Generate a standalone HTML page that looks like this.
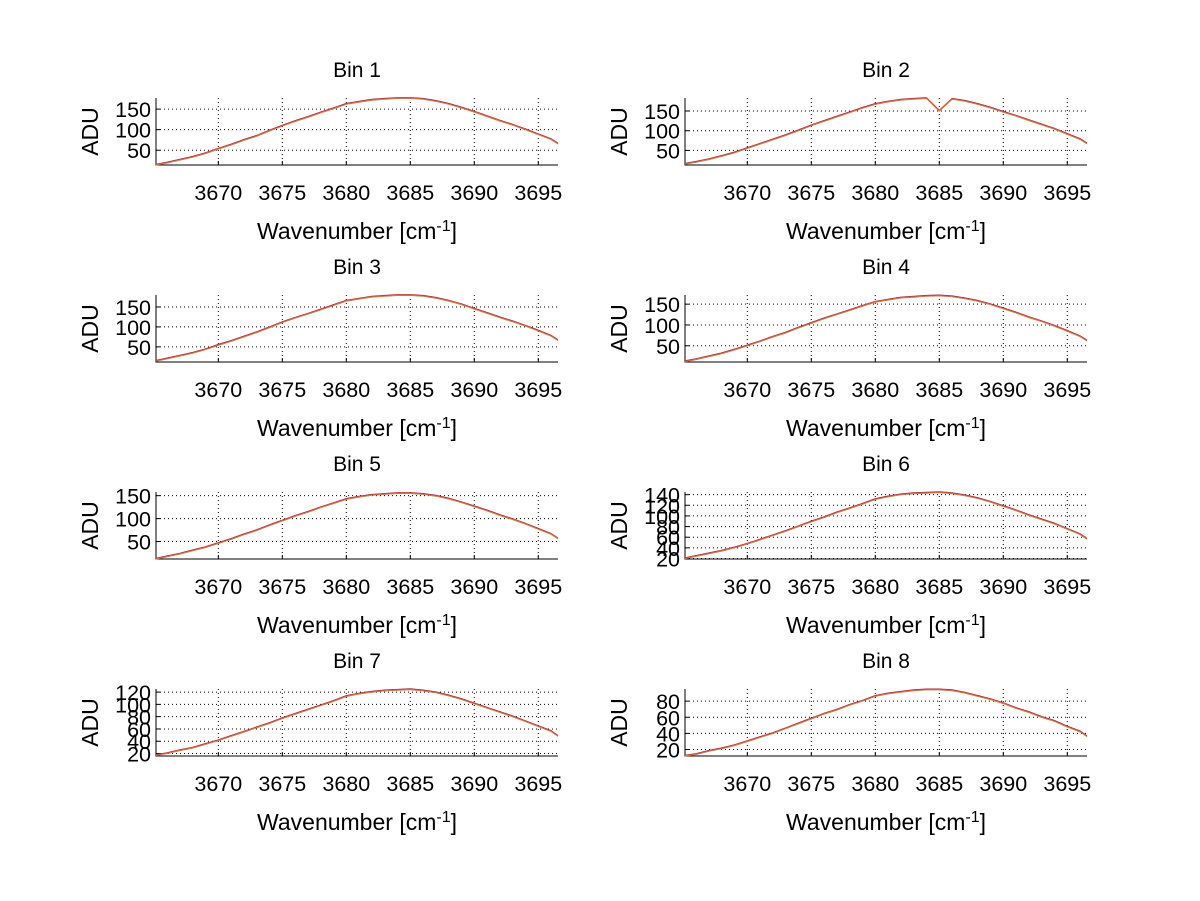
<!DOCTYPE html>
<html><head><meta charset="utf-8"><style>
body{margin:0;background:#fff;}
svg{display:block;font-family:"Liberation Sans",sans-serif;}
</style></head><body>
<svg id="fig" width="1200" height="901" xmlns="http://www.w3.org/2000/svg"></svg>
<script>
const wavenumbers = [3665,3666,3667,3668,3669,3670,3671,3672,3673,3674,3675,3676,3677,3678,3679,3680,3681,3682,3683,3684,3685,3686,3687,3688,3689,3690,3691,3692,3693,3694,3695,3696,3697];
const bin1 = [14,19,26,33,42,53,63,74,84,97,109,120,130,141,151,162,167,172,174,176,176,174,169,162,153,143,132,121,111,100,88,76,65];
const bin2 = [15,20,27,35,44,55,66,77,88,100,113,124,135,146,157,167,173,178,180,182,150,180,175,167,158,147,137,126,115,104,91,78,67];
const bin3 = [14,20,27,34,43,54,64,75,86,98,111,122,132,143,154,165,170,175,177,179,179,177,172,165,156,145,134,123,113,102,90,77,66];
const bin4 = [12,17,24,31,40,50,60,71,81,93,104,115,125,135,145,155,160,165,167,169,170,168,163,157,149,139,129,118,108,97,85,72,62];
const bin5 = [12,17,23,30,37,46,55,65,74,85,95,105,114,124,133,142,147,151,153,155,155,153,149,143,135,126,117,107,98,88,77,66,56];
const bin6 = [20,24,29,34,40,47,55,63,71,80,89,97,106,114,122,131,136,140,142,143,144,142,138,133,126,118,110,101,93,85,75,65,56];
const bin7 = [17,20,25,29,35,41,48,55,62,69,77,84,91,98,105,113,117,120,122,123,124,122,119,114,108,101,94,87,80,72,64,56,48];
const bin8 = [12,14,18,21,25,30,35,40,46,52,58,64,69,75,80,86,89,91,93,94,94,93,90,86,82,77,71,66,60,55,48,42,36];
const binSeries = [bin1,bin2,bin3,bin4,bin5,bin6,bin7,bin8];
const binTitles = ["Bin 1","Bin 2","Bin 3","Bin 4","Bin 5","Bin 6","Bin 7","Bin 8"];
const yLimits = [[14,177],[13,183],[12,180],[11,172],[12,158],[19,145],[16,125],[12,95]];
const yTicks = [[50,100,150],[50,100,150],[50,100,150],[50,100,150],[50,100,150],[20,40,60,80,100,120,140],[20,40,60,80,100,120],[20,40,60,80]];
const xTicks = [3670,3675,3680,3685,3690,3695];
const xLimits = [3665.13,3696.54];

const NS="http://www.w3.org/2000/svg";
const svg=document.getElementById('fig');
function mk(tag,attrs,parent){const e=document.createElementNS(NS,tag);for(const k in attrs)e.setAttribute(k,attrs[k]);(parent||svg).appendChild(e);return e;}

for(let i=0;i<8;i++){
  const col=i%2,row=Math.floor(i/2);
  const L=156+col*529,R=558+col*529,T=98+row*197,B=165+row*197;
  const g=mk('g',{});
  
  
  const xs=v=>L+(v-xLimits[0])/(xLimits[1]-xLimits[0])*(R-L);
  const ys=v=>B-(v-yLimits[i][0])/(yLimits[i][1]-yLimits[i][0])*(B-T);
  xTicks.forEach(t=>{const x=xs(t);
    const gl=mk('line',{x1:x,x2:x,y1:T,y2:B,stroke:'#000','stroke-width':1,'stroke-dasharray':'1,3'},g);
    
    mk('line',{x1:x,x2:x,y1:B,y2:B-4,stroke:'#000'},g);
    const tl=mk('text',{x:x,y:B+35,'text-anchor':'middle','font-size':21.5},g);tl.textContent=t;
    
  });
  yTicks[i].forEach(t=>{const y=ys(t);
    const gl=mk('line',{x1:L,x2:R,y1:y,y2:y,stroke:'#000','stroke-width':1,'stroke-dasharray':'1,3'},g);
    
    mk('line',{x1:L,x2:L+4,y1:y,y2:y,stroke:'#000'},g);
    const tl=mk('text',{x:L-5,y:y+8,'text-anchor':'end','font-size':21.5},g);tl.textContent=t;
    
  });
  const ax=mk('path',{d:`M${L},${T}V${B}H${R}`,fill:'none',stroke:'#000','stroke-width':1},g);
  
  const d=binSeries[i];
  let p1='',p2='';
  d.forEach((v,j)=>{const x=Math.min(Math.max(xs(wavenumbers[j]),L),R);p1+=(j?'L':'M')+x.toFixed(1)+','+ys(v).toFixed(1);p2+=(j?'L':'M')+x.toFixed(1)+','+(ys(v)-0.8).toFixed(1);});
  const s1=mk('path',{d:p2,fill:'none',stroke:'#5a3a9a','stroke-width':1},g);
  
  const s2=mk('path',{d:p1,fill:'none',stroke:'#ff6a1a','stroke-width':1.2},g);
  
  const ti=mk('text',{x:(L+R)/2,y:T-21,'text-anchor':'middle','font-size':21},g);ti.textContent=binTitles[i];
  
  const xl=mk('text',{x:(L+R)/2,y:B+74,'text-anchor':'middle','font-size':23},g);
  xl.innerHTML='Wavenumber [cm<tspan dy="-8" font-size="16">-1</tspan><tspan dy="8">]</tspan>';
  
  const yl=mk('text',{x:0,y:0,'text-anchor':'middle','font-size':23,transform:`translate(${L-58},${(T+B)/2}) rotate(-90)`},g);yl.textContent='ADU';
  
}
</script>
</body></html>
